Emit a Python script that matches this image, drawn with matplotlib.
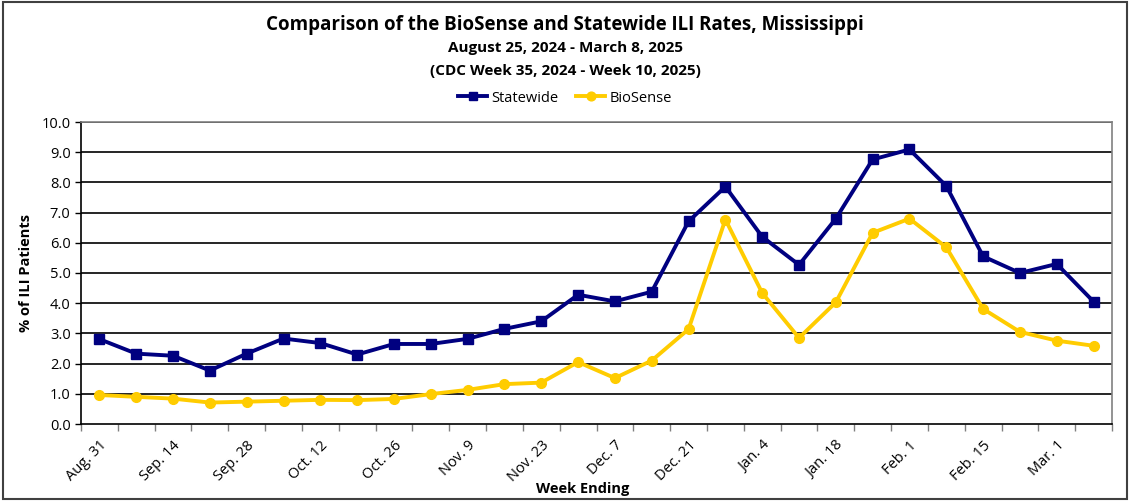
import matplotlib
matplotlib.use("Agg")
import matplotlib.pyplot as plt
import numpy as np

weeks = ["Aug. 31", "Sep. 7", "Sep. 14", "Sep. 21", "Sep. 28", "Oct. 5", "Oct. 12",
         "Oct. 19", "Oct. 26", "Nov. 2", "Nov. 9", "Nov. 16", "Nov. 23", "Nov. 30",
         "Dec. 7", "Dec. 14", "Dec. 21", "Dec. 28", "Jan. 4", "Jan. 11", "Jan. 18",
         "Jan. 25", "Feb. 1", "Feb. 8", "Feb. 15", "Feb. 22", "Mar. 1", "Mar. 8"]
statewide = [2.81, 2.33, 2.26, 1.77, 2.33, 2.83, 2.68, 2.30, 2.65, 2.65, 2.82, 3.15,
             3.40, 4.28, 4.06, 4.38, 6.71, 7.86, 6.20, 5.27, 6.80, 8.76, 9.09, 7.88,
             5.55, 5.00, 5.30, 4.05]
biosense = [0.96, 0.90, 0.84, 0.71, 0.74, 0.77, 0.80, 0.79, 0.83, 0.99, 1.13, 1.32,
            1.37, 2.05, 1.52, 2.10, 3.14, 6.77, 4.34, 2.85, 4.03, 6.33, 6.80, 5.85,
            3.81, 3.05, 2.76, 2.59]
yticks = [0.0, 1.0, 2.0, 3.0, 4.0, 5.0, 6.0, 7.0, 8.0, 9.0, 10.0]

plt.rcParams['font.family'] = ['Open Sans', 'DejaVu Sans']

fig = plt.figure(figsize=(11.30, 5.01), dpi=100)
ax = fig.add_axes([81/1130, 1 - 424/501, (1112-81)/1130, (424-122)/501])

x = np.arange(len(weeks))
navy = "#000080"
gold = "#FFCC00"
ax.plot(x, statewide, color=navy, lw=2.8, marker='s', ms=7, label="Statewide", zorder=4)
ax.plot(x, biosense, color=gold, lw=2.8, marker='o', ms=7, label="BioSense", zorder=3)

ax.set_xlim(-0.5, len(weeks) - 0.5)
ax.set_ylim(0, 10)
ax.set_yticks(yticks)
ax.set_yticklabels([f"{v:.1f}" for v in yticks], fontsize=10.5)
for v in yticks[1:]:
    ax.axhline(v, color="#000000", lw=1.2, zorder=1)

ax.set_xticks(x[::2])
ax.set_xticklabels(weeks[::2], rotation=45, ha='right', rotation_mode='anchor', fontsize=10.5)
ax.tick_params(axis='x', length=0, pad=10)
ax.set_xticks(np.arange(-0.5, len(weeks), 1), minor=True)
ax.tick_params(axis='x', which='minor', length=5, color="#808080", width=1)
ax.tick_params(axis='y', length=4, width=1, color="#000000")

for s in ['left', 'bottom']:
    ax.spines[s].set_color("#000000")
    ax.spines[s].set_linewidth(1.2)
for s in ['right', 'top']:
    ax.spines[s].set_color("#808080")
    ax.spines[s].set_linewidth(1.2)

ax.set_ylabel("% of ILI Patients", fontsize=10.5, fontweight='bold', labelpad=6)
fig.text(583/1130, 1 - 489/501, "Week Ending", ha='center', va='center',
         fontsize=10.5, fontweight='bold')

fig.text(0.5, 1 - 25/501, "Comparison of the BioSense and Statewide ILI Rates, Mississippi",
         ha='center', va='center', fontsize=13.5, fontweight='bold')
fig.text(0.5, 1 - 48/501, "August 25, 2024 - March 8, 2025",
         ha='center', va='center', fontsize=11, fontweight='bold')
fig.text(0.5, 1 - 71/501, "(CDC Week 35, 2024 - Week 10, 2025)",
         ha='center', va='center', fontsize=11, fontweight='bold')

fig.legend(loc='center', bbox_to_anchor=(0.5, 1 - 98/501), ncol=2, frameon=False,
           fontsize=10.5, handlelength=2.0, columnspacing=1.2, handletextpad=0.3,
           markerscale=0.9)

border = plt.Rectangle((0.003, 0.004), 0.994, 0.992, transform=fig.transFigure,
                       fill=False, edgecolor="#404040", lw=1.5)
fig.patches.append(border)

fig.savefig("out.png", dpi=100)
